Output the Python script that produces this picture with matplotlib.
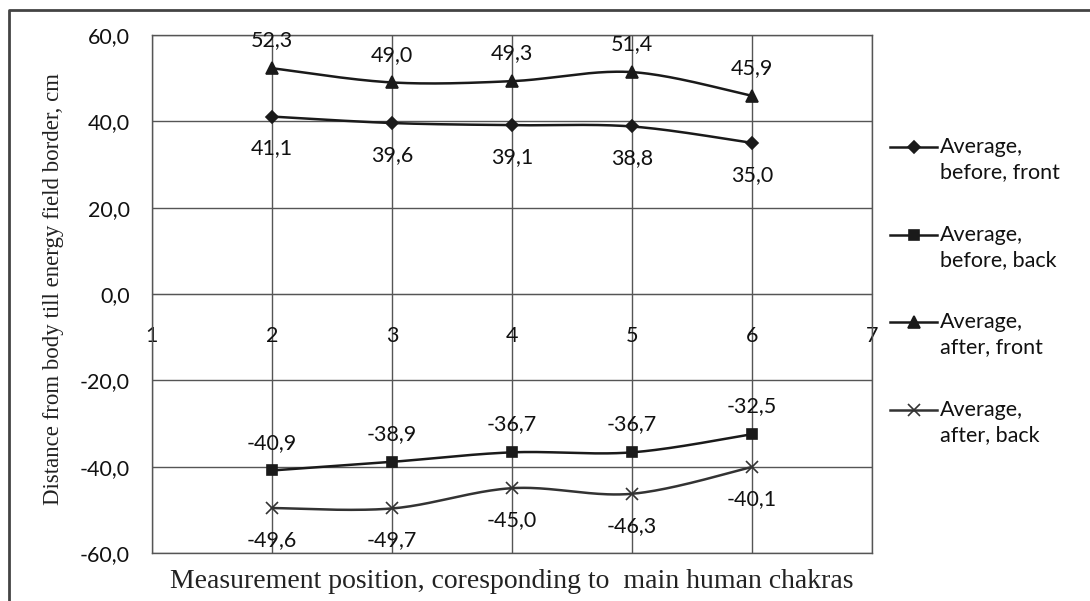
import numpy as np
import matplotlib
matplotlib.use('Agg')
import matplotlib.pyplot as plt
from matplotlib.lines import Line2D

# chakra positions and averages (cm)
positions = [2, 3, 4, 5, 6]
before_front = [41.1, 39.6, 39.1, 38.8, 35.0]
before_back = [-40.9, -38.9, -36.7, -36.7, -32.5]
after_front = [52.3, 49.0, 49.3, 51.4, 45.9]
after_back = [-49.6, -49.7, -45.0, -46.3, -40.1]
series_names = ['Average,\nbefore, front', 'Average,\nbefore, back',
                'Average,\nafter, front', 'Average,\nafter, back']
x_ticks = [1, 2, 3, 4, 5, 6, 7]
y_ticks = [-60, -40, -20, 0, 20, 40, 60]

plt.rcParams['font.family'] = ['Lato', 'DejaVu Sans']


def smooth(x, y, n=40):
    # Excel-like smoothed line (Catmull-Rom through bezier segments)
    pts = np.column_stack([x, y]).astype(float)
    P = np.vstack([pts[0], pts, pts[-1]])
    segs = []
    for i in range(1, len(P) - 2):
        p0, p1, p2, p3 = P[i - 1], P[i], P[i + 1], P[i + 2]
        c1 = p1 + (p2 - p0) / 6
        c2 = p2 - (p3 - p1) / 6
        t = np.linspace(0, 1, n)[:, None]
        segs.append((1 - t) ** 3 * p1 + 3 * (1 - t) ** 2 * t * c1
                    + 3 * (1 - t) * t ** 2 * c2 + t ** 3 * p2)
    s = np.vstack(segs)
    return s[:, 0], s[:, 1]


fig = plt.figure(figsize=(10.9, 6.01), dpi=100)
ax = fig.add_axes([0.1394, 0.080, 0.6606, 0.8618])

styles = [
    (before_front, 'D', 6, '#1a1a1a', 'below'),
    (before_back, 's', 7.5, '#1a1a1a', 'above'),
    (after_front, '^', 8, '#1a1a1a', 'above'),
    (after_back, 'x', 8, '#333333', 'below'),
]

for vals, mk, ms, col, pos in styles:
    sx, sy = smooth(positions, vals)
    ax.plot(sx, sy, color=col, lw=1.8, zorder=3)
    ax.plot(positions, vals, linestyle='none', marker=mk, markersize=ms,
            color=col, mew=1.2, zorder=4)
    for xv, yv in zip(positions, vals):
        off = 20 if pos == 'above' else -23
        ax.annotate(('%.1f' % yv).replace('.', ','), (xv, yv),
                    xytext=(0, off), textcoords='offset points',
                    ha='center', va='center', fontsize=15.5,
                    color='#111111', clip_on=False, zorder=5)

ax.set_xlim(1, 7)
ax.set_ylim(-60, 60)
ax.set_xticks(x_ticks)
ax.set_yticks(y_ticks)
ax.set_yticklabels([('%.1f' % v).replace('.', ',') for v in y_ticks])
ax.grid(True, color='#555555', lw=1.0)
ax.set_axisbelow(True)
for s in ['left', 'right', 'top']:
    ax.spines[s].set_color('#555555')
    ax.spines[s].set_linewidth(1.0)
ax.spines['bottom'].set_position(('data', 0))
ax.spines['bottom'].set_color('#555555')
ax.axhline(-60, color='#555555', lw=1.0, clip_on=False, zorder=1)
ax.tick_params(axis='both', length=0, labelsize=15.5, colors='#111111')
ax.tick_params(axis='x', pad=23)
ax.tick_params(axis='y', pad=16)

fig.text(0.4697, 0.032, 'Measurement position, coresponding to  main human chakras',
         ha='center', va='center', fontsize=20, family='Liberation Serif',
         color='#222222')
fig.text(0.0495, 0.519, 'Distance from body till energy field border, cm',
         ha='center', va='center', rotation=90, fontsize=16.5,
         family='Liberation Serif', color='#222222')

# legend drawn by hand: handle aligned with first text line
leg_y = [147, 235, 322, 410]
for (vals, mk, ms, col, pos), name, yy in zip(styles, series_names, leg_y):
    fy = 1 - yy / 601
    fig.add_artist(Line2D([890 / 1090, 937 / 1090], [fy, fy], color=col,
                          lw=1.8, transform=fig.transFigure))
    fig.add_artist(Line2D([913.5 / 1090], [fy], marker=mk, markersize=ms,
                          color=col, mew=1.2, linestyle='none',
                          transform=fig.transFigure))
    fig.text(940 / 1090, fy + 0.016, name, ha='left', va='top', fontsize=15.5,
             color='#111111', linespacing=1.3)

# outer frame (top and left only)
fig.add_artist(Line2D([9 / 1090, 9 / 1090, 1.0], [0.0, 1 - 10 / 601, 1 - 10 / 601],
                      color='#444444', lw=2, transform=fig.transFigure))

fig.savefig('out.png', dpi=100)
